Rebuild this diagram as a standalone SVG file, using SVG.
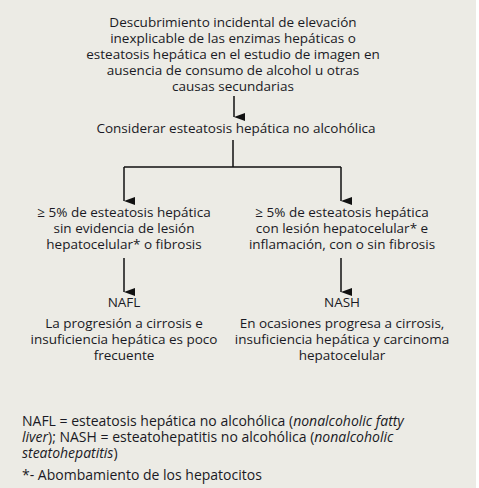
<svg xmlns="http://www.w3.org/2000/svg" width="479" height="488" viewBox="0 0 479 488">
<defs>
<marker id="ah" markerWidth="8" markerHeight="11" refX="4" refY="11" orient="auto-start-reverse" markerUnits="userSpaceOnUse" viewBox="0 0 8 11">
<path d="M0,0 L8,0 L4,11 Z" fill="#111"/>
</marker>
<style>
text{font-family:"Open Sans","Noto Sans",sans-serif;font-size:13.5px;fill:#1a1a24;}
.c{text-anchor:middle;}
.f{font-size:14px;}
.conn line,.conn path{stroke:#111;stroke-width:1.5;fill:none;}
.arr{marker-end:url(#ah);}
</style>
</defs>
<rect x="0" y="0" width="476" height="488" fill="#ecebe5"/>
<g class="conn">
<line class="arr" x1="234" y1="96" x2="234" y2="117"/>
<path d="M233,140 V167 M124,167 H341"/>
<line class="arr" x1="124" y1="167" x2="124" y2="201"/>
<line class="arr" x1="341" y1="167" x2="341" y2="201"/>
<line class="arr" x1="124" y1="258" x2="124" y2="292"/>
<line class="arr" x1="341" y1="258" x2="341" y2="292"/>
</g>
<g id="n1">
<text class="c" x="233" y="27">Descubrimiento incidental de elevación</text>
<text class="c" x="233" y="43">inexplicable de las enzimas hepáticas o</text>
<text class="c" x="233" y="59">esteatosis hepática en el estudio de imagen en</text>
<text class="c" x="233" y="75">ausencia de consumo de alcohol u otras</text>
<text class="c" x="233" y="91">causas secundarias</text>
</g>
<g id="n2">
<text class="c" x="236" y="133">Considerar esteatosis hepática no alcohólica</text>
</g>
<g id="n3">
<text class="c" x="124" y="217">≥ 5% de esteatosis hepática</text>
<text class="c" x="124" y="233">sin evidencia de lesión</text>
<text class="c" x="124" y="249">hepatocelular* o fibrosis</text>
</g>
<g id="n4">
<text class="c" x="342" y="217">≥ 5% de esteatosis hepática</text>
<text class="c" x="342" y="233">con lesión hepatocelular* e</text>
<text class="c" x="342" y="249">inflamación, con o sin fibrosis</text>
</g>
<g id="n5">
<text class="c" x="124" y="307">NAFL</text>
<text class="c" x="124" y="328">La progresión a cirrosis e</text>
<text class="c" x="124" y="344">insuficiencia hepática es poco</text>
<text class="c" x="124" y="360">frecuente</text>
</g>
<g id="n6">
<text class="c" x="342" y="307">NASH</text>
<text class="c" x="342" y="328">En ocasiones progresa a cirrosis,</text>
<text class="c" x="342" y="344">insuficiencia hepática y carcinoma</text>
<text class="c" x="342" y="360">hepatocelular</text>
</g>
<g id="legend">
<text class="f" x="22" y="426">NAFL = esteatosis hepática no alcohólica (<tspan font-style="italic">nonalcoholic fatty</tspan></text>
<text class="f" x="22" y="442"><tspan font-style="italic">liver</tspan>); NASH = esteatohepatitis no alcohólica (<tspan font-style="italic">nonalcoholic</tspan></text>
<text class="f" x="22" y="458"><tspan font-style="italic">steatohepatitis</tspan>)</text>
<text class="f" x="22" y="480">*- Abombamiento de los hepatocitos</text>
</g>
</svg>
